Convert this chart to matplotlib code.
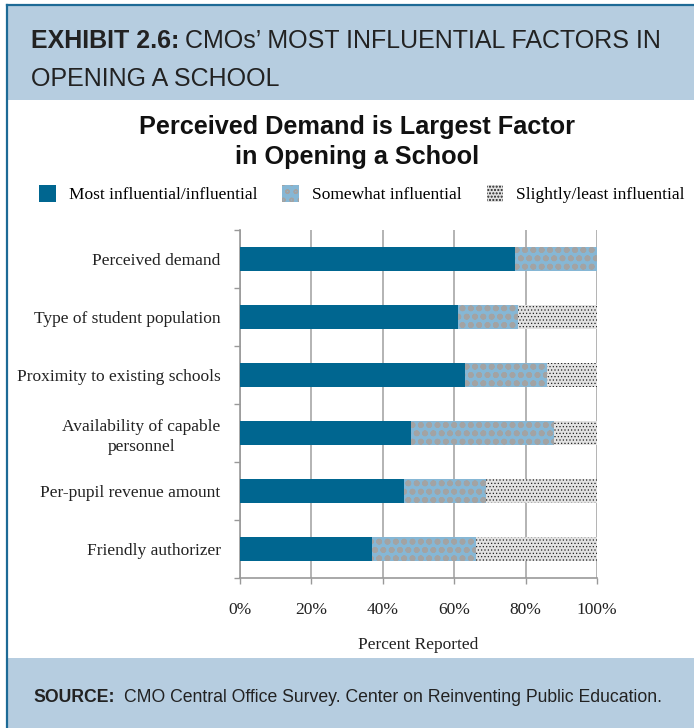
import matplotlib
matplotlib.use("Agg")
import matplotlib.pyplot as plt
from matplotlib.patches import Rectangle
import numpy as np

categories = ["Perceived demand", "Type of student population", "Proximity to existing schools",
              "Availability of capable\npersonnel", "Per-pupil revenue amount", "Friendly authorizer"]
most = [77, 61, 63, 48, 46, 37]
somewhat = [23, 17, 23, 40, 23, 29]
slightly = [0, 22, 14, 12, 31, 34]
series_names = ["Most influential/influential", "Somewhat influential", "Slightly/least influential"]
xticks = [0, 20, 40, 60, 80, 100]
xtick_labels = ["0%", "20%", "40%", "60%", "80%", "100%"]

W, H = 694, 728
fig = plt.figure(figsize=(W / 100, H / 100), dpi=100)
fig.patch.set_facecolor("white")

def fx(px):
    return px / W

def fy(py):
    return 1 - py / H

band = "#b6cde0"
border = "#1d6a96"
fig.patches.append(Rectangle((fx(7), fy(100)), 1 - fx(7), fy(5) - fy(100), transform=fig.transFigure,
                             facecolor=band, edgecolor="none", zorder=0))
fig.patches.append(Rectangle((fx(7), 0), 1 - fx(7), fy(658), transform=fig.transFigure,
                             facecolor=band, edgecolor="none", zorder=0))
fig.add_artist(plt.Line2D([fx(7), 1], [fy(4.5), fy(4.5)], transform=fig.transFigure, color=border, lw=1.6))
fig.add_artist(plt.Line2D([fx(7), fx(7)], [0, fy(4.5)], transform=fig.transFigure, color=border, lw=1.6))

sans = "Liberation Sans"
serif = "Liberation Serif"
hs = 18.0

t1 = fig.text(fx(31), fy(41), "EXHIBIT 2.6:", fontsize=hs, fontweight="bold", family=sans,
              color="#222222", va="center", ha="left")
fig.canvas.draw()
bb = t1.get_window_extent()
fig.text(bb.x1 / W + fx(6), fy(41), "CMOs\u2019 MOST INFLUENTIAL FACTORS IN", fontsize=hs, family=sans,
         color="#222222", va="center", ha="left")
fig.text(fx(31), fy(79), "OPENING A SCHOOL", fontsize=hs, family=sans, color="#222222",
         va="center", ha="left")

fig.text(fx(357), fy(142), "Perceived Demand is Largest Factor\nin Opening a School", fontsize=18.2,
         fontweight="bold", family=sans, color="#111111", ha="center", va="center", linespacing=1.28)

s1 = fig.text(fx(33), fy(697), "SOURCE:", fontsize=12.7, fontweight="bold", family=sans, color="#222222",
              va="center", ha="left")
fig.canvas.draw()
bb = s1.get_window_extent()
fig.text(bb.x1 / W + fx(9), fy(697), "CMO Central Office Survey. Center on Reinventing Public Education.",
         fontsize=12.7, family=sans, color="#222222", va="center", ha="left")

ax = fig.add_axes([fx(240), fy(578), fx(597) - fx(240), fy(230) - fy(578)])
y = np.arange(len(categories))
h = 0.4
dark = "#006690"
light = "#86b7d5"
gray_bg = "#e2e2e2"

b1 = ax.barh(y, most, height=h, color=dark, edgecolor="none", zorder=3, label=series_names[0])
with plt.rc_context({"hatch.linewidth": 1.8}):
    b2 = ax.barh(y, somewhat, left=most, height=h, facecolor=light, edgecolor="#a3a3a3", linewidth=0,
                 hatch="oo", zorder=3, label=series_names[1])
left3 = np.array(most) + np.array(somewhat)
with plt.rc_context({"hatch.linewidth": 0.5}):
    b3 = ax.barh(y, slightly, left=left3, height=h, facecolor=gray_bg, edgecolor="#222222", linewidth=0,
                 hatch=".....", zorder=3, label=series_names[2])

fs = 12.5
ax.set_xlim(0, 100)
ax.set_ylim(len(categories) - 0.5, -0.5)
ax.set_xticks(xticks)
ax.set_xticklabels(xtick_labels, family=serif, fontsize=fs, color="#222222")
ax.set_yticks(y)
ax.set_yticklabels(categories, family=serif, fontsize=fs, color="#222222", linespacing=1.35)
for lab in ax.get_yticklabels():
    lab.set_multialignment("center")
ax.set_yticks(np.arange(-0.5, len(categories), 1), minor=True)
ax.tick_params(axis="y", which="major", length=0, pad=14)
ax.tick_params(axis="y", which="minor", length=4, color="#999999", width=1)
ax.tick_params(axis="x", which="major", length=4, color="#999999", width=1, pad=13)
ax.set_xlabel("Percent Reported", family=serif, fontsize=fs, color="#222222", labelpad=14)
ax.grid(axis="x", color="#b3b3b3", linewidth=1.4, zorder=0)
ax.set_axisbelow(True)
for side in ["top", "right"]:
    ax.spines[side].set_visible(False)
for side in ["left", "bottom"]:
    ax.spines[side].set_color("#999999")
    ax.spines[side].set_linewidth(1.2)

leg = fig.legend(handles=[b1, b2, b3], labels=series_names, loc="center", ncol=3,
                 bbox_to_anchor=(fx(362), fy(194)), frameon=False,
                 prop={"family": serif, "size": fs}, handlelength=0.95, handleheight=1.1,
                 handletextpad=0.75, columnspacing=1.45)

fig.savefig("out.png", dpi=100)
